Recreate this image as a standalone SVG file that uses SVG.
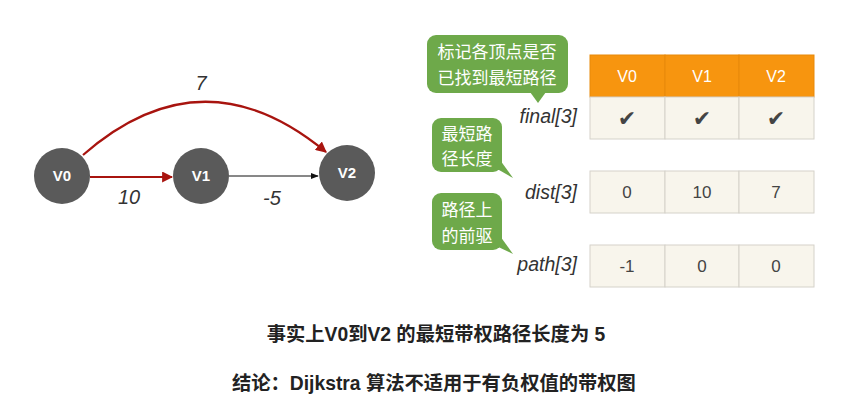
<svg xmlns="http://www.w3.org/2000/svg" width="857" height="407" viewBox="0 0 857 407">
<style>
.node circle{fill:#5a5a5a}
.node text{fill:#fff;font-family:"Liberation Sans",Arial,sans-serif;font-size:15px;font-weight:bold;text-anchor:middle}
.w{font-family:"Liberation Sans",Arial,sans-serif;font-size:20px;font-style:italic;fill:#333;text-anchor:middle}
.lbl{font-family:"Liberation Sans",Arial,sans-serif;font-size:19.5px;font-style:italic;fill:#333;text-anchor:end}
.hd{fill:#f7950f;stroke:#e8890a;stroke-width:1}
.hdt{font-family:"Liberation Sans",Arial,sans-serif;font-size:16px;fill:#fff;text-anchor:middle}
.cell{fill:#f8f5ec;stroke:#d5d2ca;stroke-width:1}
.ct{font-family:"Liberation Sans",Arial,sans-serif;font-size:17px;fill:#444;text-anchor:middle}
.ck{font-family:"DejaVu Sans",sans-serif;font-size:22px;fill:#444;text-anchor:middle;font-weight:bold}
.bub{fill:#6ea94a}
.bt{font-family:"Noto Sans CJK SC","Noto Sans",sans-serif;font-size:17px;fill:#fff;text-anchor:middle}
.ft{font-family:"Liberation Sans","Noto Sans CJK SC",sans-serif;font-size:19.3px;font-weight:bold;fill:#222}
</style>
<defs>
<marker id="ar" viewBox="0 0 10 10" refX="9" refY="5" markerWidth="5" markerHeight="5" orient="auto" markerUnits="strokeWidth"><path d="M0,0 L10,5 L0,10 z" fill="#a8140f"/></marker>
<marker id="ab" viewBox="0 0 10 10" refX="9" refY="5" markerWidth="8" markerHeight="8" orient="auto" markerUnits="strokeWidth"><path d="M0,1 L10,5 L0,9 z" fill="#111"/></marker>
</defs>
<rect width="857" height="407" fill="#fff"/>
<g id="connectors">
<path d="M90,177 L172,177" stroke="#a8140f" stroke-width="2.2" fill="none" marker-end="url(#ar)"/>
<path d="M229,176 L318,176" stroke="#111" stroke-width="1" fill="none" marker-end="url(#ab)"/>
<path d="M83,155 Q203,50 326,152" stroke="#a8140f" stroke-width="2.2" fill="none" marker-end="url(#ar)"/>
<text class="w" x="201" y="90">7</text>
<text class="w" x="129" y="204">10</text>
<text class="w" x="272" y="205">-5</text>
</g>
<g id="V0" class="node"><circle cx="62" cy="176" r="28"/><text x="62" y="181">V0</text></g>
<g id="V1" class="node"><circle cx="201" cy="176" r="28"/><text x="201" y="181">V1</text></g>
<g id="V2" class="node"><circle cx="347" cy="173" r="28"/><text x="347" y="178">V2</text></g>
<g id="table">
<rect class="hd" x="590" y="55" width="75" height="42"/>
<rect class="hd" x="665" y="55" width="74" height="42"/>
<rect class="hd" x="739" y="55" width="75" height="42"/>
<text class="hdt" x="627" y="82">V0</text>
<text class="hdt" x="702" y="82">V1</text>
<text class="hdt" x="776" y="82">V2</text>
<rect class="cell" x="590" y="97" width="75" height="42"/>
<rect class="cell" x="665" y="97" width="74" height="42"/>
<rect class="cell" x="739" y="97" width="75" height="42"/>
<text class="ck" x="627" y="126">✔</text>
<text class="ck" x="702" y="126">✔</text>
<text class="ck" x="776" y="126">✔</text>
<rect class="cell" x="590" y="171" width="75" height="42"/>
<rect class="cell" x="665" y="171" width="74" height="42"/>
<rect class="cell" x="739" y="171" width="75" height="42"/>
<text class="ct" x="627" y="198">0</text>
<text class="ct" x="702" y="198">10</text>
<text class="ct" x="776" y="198">7</text>
<rect class="cell" x="590" y="245" width="75" height="42"/>
<rect class="cell" x="665" y="245" width="74" height="42"/>
<rect class="cell" x="739" y="245" width="75" height="42"/>
<text class="ct" x="627" y="272">-1</text>
<text class="ct" x="702" y="272">0</text>
<text class="ct" x="776" y="272">0</text>
<text class="lbl" x="577" y="123">final[3]</text>
<text class="lbl" x="577" y="199">dist[3]</text>
<text class="lbl" x="577" y="271">path[3]</text>
</g>
<g id="bubble1">
<rect class="bub" x="427" y="35" width="141" height="58" rx="9"/>
<path class="bub" d="M530,92 L538,103 L546,92 z"/>
<text class="bt" x="497" y="58">标记各顶点是否</text>
<text class="bt" x="497" y="84">已找到最短路径</text>
</g>
<g id="bubble2">
<rect class="bub" x="432" y="118" width="70" height="54" rx="9"/>
<path class="bub" d="M492,166 L513,178 L500,160 z"/>
<text class="bt" x="467" y="140">最短路</text>
<text class="bt" x="467" y="165">径长度</text>
</g>
<g id="bubble3">
<rect class="bub" x="432" y="193" width="70" height="57" rx="9"/>
<path class="bub" d="M492,244 L513,254 L500,236 z"/>
<text class="bt" x="467" y="216">路径上</text>
<text class="bt" x="467" y="242">的前驱</text>
</g>
<g id="footer">
<text class="ft" x="436" y="341" text-anchor="middle">事实上V0到V2 的最短带权路径长度为 5</text>
<text class="ft" x="232" y="390">结论：Dijkstra 算法不适用于有负权值的带权图</text>
</g>
</svg>
